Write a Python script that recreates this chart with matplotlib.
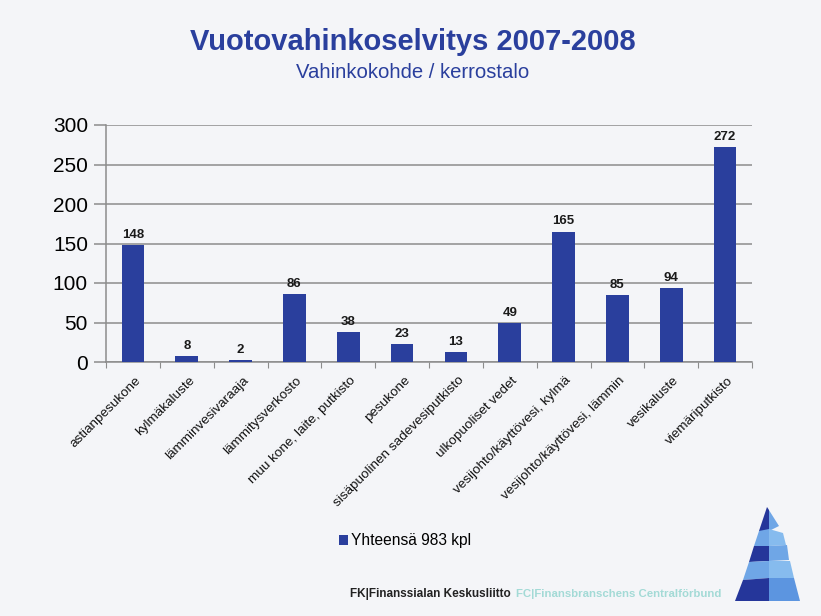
#!/usr/bin/env python3

import matplotlib
matplotlib.use("Agg")
import matplotlib.pyplot as plt
import numpy as np
from matplotlib.patches import Polygon

# Data
categories = [
    "astianpesukone",
    "kylmäkaluste",
    "lämminvesivaraaja",
    "lämmitysverkosto",
    "muu kone, laite, putkisto",
    "pesukone",
    "sisäpuolinen sadevesiputkisto",
    "ulkopuoliset vedet",
    "vesijohto/käyttövesi, kylmä",
    "vesijohto/käyttövesi, lämmin",
    "vesikaluste",
    "viemäriputkisto",
]
values = [148, 8, 2, 86, 38, 23, 13, 49, 165, 85, 94, 272]
y_ticks = [0, 50, 100, 150, 200, 250, 300]

TITLE = "Vuotovahinkoselvitys 2007-2008"
SUBTITLE = "Vahinkokohde / kerrostalo"
LEGEND_LABEL = "Yhteensä 983 kpl"

BG = "#F4F5F8"
BAR_COLOR = "#2A3F9D"
GRID_COLOR = "#8C8C8C"

plt.rcParams['font.family'] = ['Liberation Sans', 'DejaVu Sans']

fig = plt.figure(figsize=(8.21, 6.16), dpi=100, facecolor=BG)
W, H = 821, 616

ax = fig.add_axes([106 / W, 1 - 362 / H, (752 - 106) / W, (362 - 125) / H])
ax.set_facecolor(BG)

x = np.arange(len(categories))
bars = ax.bar(x, values, width=0.42, color=BAR_COLOR, zorder=3, label=LEGEND_LABEL)

for xi, v in zip(x, values):
    ax.annotate(str(v), (xi, v), xytext=(0, 3), textcoords="offset points",
                ha="center", va="bottom", fontsize=9.5, fontweight="bold",
                color="#1A1A1A")

ax.set_xlim(-0.5, len(categories) - 0.5)
ax.set_ylim(0, 300)
ax.set_yticks(y_ticks)
ax.set_yticklabels([str(t) for t in y_ticks], fontsize=15)
ax.yaxis.grid(True, color=GRID_COLOR, linewidth=1.1, zorder=0)
ax.tick_params(axis="y", length=9, color=GRID_COLOR, width=1.1, pad=4)

# category boundary ticks on the x axis
ax.set_xticks(np.arange(-0.5, len(categories), 1.0), minor=False)
ax.set_xticklabels([])
ax.tick_params(axis="x", which="major", length=4, color=GRID_COLOR, width=0.8)
ax.set_xticks(x + 0.03, minor=True)
ax.set_xticklabels(categories, minor=True, rotation=45, ha="right",
                   rotation_mode="anchor", fontsize=9.7, color="#111111")
ax.tick_params(axis="x", which="minor", length=0, pad=9)

for side in ["top", "right"]:
    ax.spines[side].set_visible(False)
ax.spines["left"].set_color(GRID_COLOR)
ax.spines["bottom"].set_color(GRID_COLOR)
ax.spines["left"].set_linewidth(1.1)
ax.spines["bottom"].set_linewidth(1.1)

# Titles
fig.text(413 / W, 1 - 42 / H, TITLE, ha="center", va="center",
         fontsize=21, fontweight="bold", color=BAR_COLOR)
fig.text(413 / W, 1 - 73 / H, SUBTITLE, ha="center", va="center",
         fontsize=14.6, color=BAR_COLOR)

# Legend
leg = fig.legend(handles=[bars], labels=[LEGEND_LABEL], loc="center",
                 bbox_to_anchor=(405 / W, 1 - 541 / H), frameon=False,
                 fontsize=11.2, handlelength=0.55, handleheight=0.55,
                 handletextpad=0.2)

# Footer
fig.text(350 / W, 1 - 594 / H, "FK|Finanssialan Keskusliitto", ha="left",
         va="center", fontsize=8.5, fontweight="bold", color="#222222")
fig.text(516 / W, 1 - 594 / H, "FC|Finansbranschens Centralförbund", ha="left",
         va="center", fontsize=8.2, fontweight="bold", color="#A3DAD6")

# Logo (pixel coords, y down)
def px(pts):
    return [(a / W, 1 - b / H) for a, b in pts]

DARK = "#25369A"
LIGHT = "#6FA6E6"
LIGHTER = "#86BBEE"
MID = "#5C95E0"
logo = [
    ([(767, 507), (769, 510), (769, 531), (759, 531)], DARK),
    ([(767, 507), (779, 526), (769, 531), (769, 510)], LIGHT),
    ([(759, 531), (769, 529), (769, 546), (754, 546)], LIGHT),
    ([(769, 529), (783, 533), (786, 545), (769, 546)], LIGHTER),
    ([(754, 546), (769, 546), (769, 561), (749, 562)], DARK),
    ([(769, 546), (787, 545), (789, 560), (769, 561)], LIGHT),
    ([(749, 562), (769, 561), (769, 578), (743, 580)], LIGHT),
    ([(769, 561), (790, 561), (794, 578), (769, 578)], LIGHTER),
    ([(743, 580), (769, 578), (769, 601), (735, 601)], DARK),
    ([(769, 578), (794, 578), (800, 601), (769, 601)], MID),
]
for pts, col in logo:
    fig.patches.append(Polygon(px(pts), closed=True, facecolor=col,
                               edgecolor="none", transform=fig.transFigure))

fig.savefig("out.png", dpi=100, facecolor=BG)
